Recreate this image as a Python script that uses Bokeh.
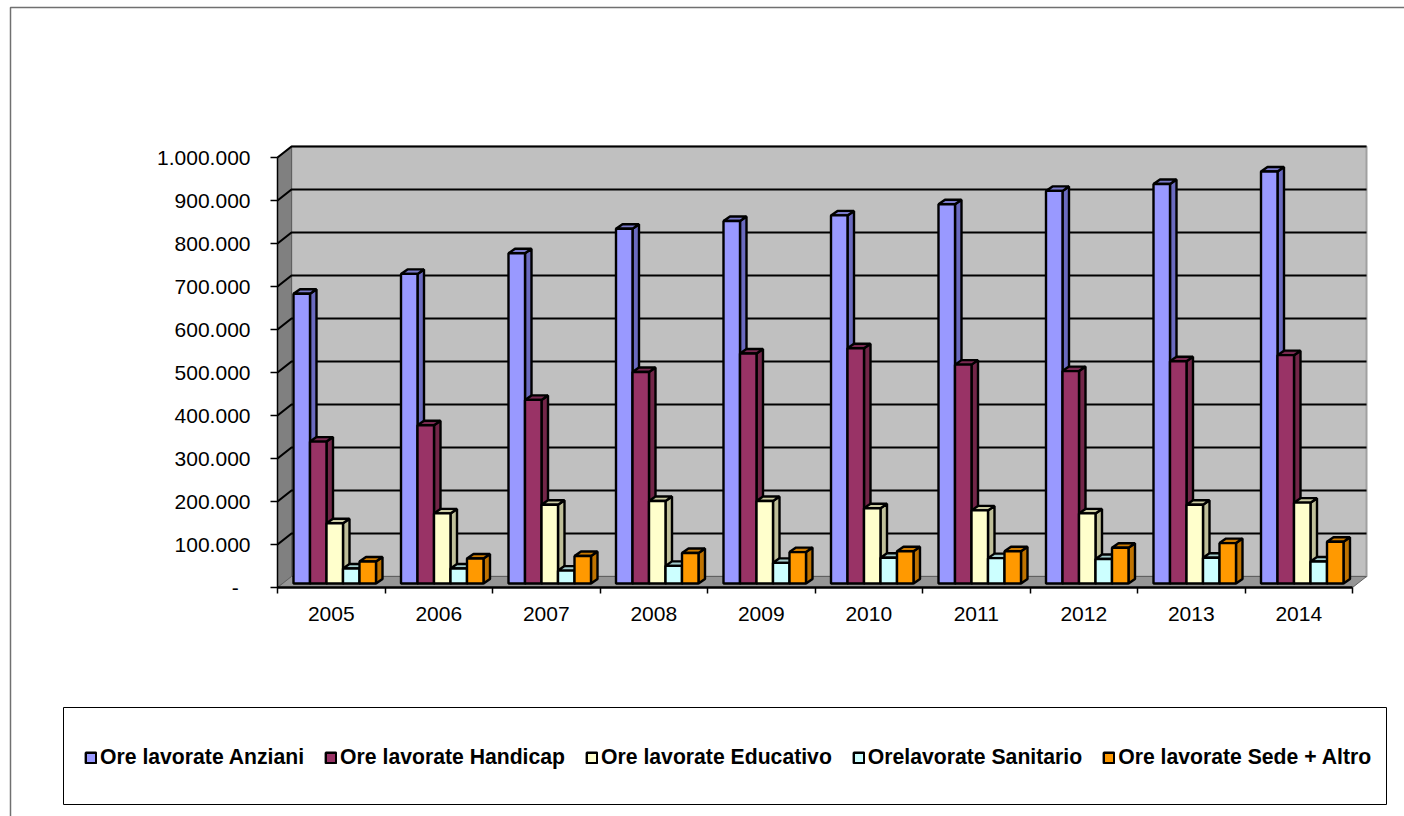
from bokeh.plotting import figure
from bokeh.embed import file_html
from bokeh.resources import INLINE
from bokeh.models import (Range1d, LinearAxis, FixedTicker, BoxAnnotation, Legend, LegendItem)

years = ["2005", "2006", "2007", "2008", "2009", "2010", "2011", "2012", "2013", "2014"]
anziani = [674000, 720000, 768000, 825000, 843000, 856000, 882000, 913000, 929000, 958000]
handicap = [330000, 368000, 427000, 492000, 535000, 547000, 509000, 494000, 517000, 531000]
educativo = [140000, 163000, 183000, 192000, 192000, 175000, 170000, 163000, 183000, 188000]
sanitario = [35000, 35000, 30000, 41000, 48000, 60000, 59000, 57000, 60000, 51000]
sede = [51000, 58000, 64000, 71000, 73000, 75000, 75000, 83000, 94000, 97000]
series_names = ["Ore lavorate Anziani", "Ore lavorate Handicap", "Ore lavorate Educativo",
                "Orelavorate Sanitario", "Ore lavorate Sede + Altro"]
series_values = [anziani, handicap, educativo, sanitario, sede]
front_colors = ["#9999FF", "#993366", "#FFFFCC", "#CCFFFF", "#FF9900"]
side_colors = ["#6A6ABF", "#722648", "#BFBF99", "#99BFBF", "#BF7300"]
top_colors = ["#7A7ACC", "#7A2951", "#CCCCA3", "#A3CCCC", "#CC7A00"]
y_ticks = [0, 100000, 200000, 300000, 400000, 500000, 600000, 700000, 800000, 900000, 1000000]
y_labels = ["-\u00a0\u00a0", "100.000", "200.000", "300.000", "400.000", "500.000",
            "600.000", "700.000", "800.000", "900.000", "1.000.000"]

FONT = "Liberation Sans"
W, H = 1404, 816
X0, Y0 = 277, 587      # where the axes cross, in pixels from top-left
PX_X = 107.5           # pixels per category
PX_Y = 430 / 1_000_000 # pixels per unit
n = len(years)

p = figure(width=W, height=H, output_backend="svg", toolbar_location=None,
           x_range=Range1d(-X0 / PX_X, (W - X0) / PX_X),
           y_range=Range1d(-(H - Y0) / PX_Y, Y0 / PX_Y),
           x_axis_type=None, y_axis_type=None,
           min_border_left=0, min_border_bottom=0, min_border_top=0, min_border_right=0)
p.outline_line_alpha = 0
p.grid.visible = False
p.background_fill_color = "white"

dx = 14 / PX_X
dy = 11 / PX_Y
top = y_ticks[-1]

# walls and floor
p.patch([dx, n + dx, n + dx, dx], [dy, dy, top + dy, top + dy],
        fill_color="#C0C0C0", line_color="#A0A0A0", line_width=2)
p.patch([0, dx, dx, 0], [0, dy, top + dy, top], fill_color="#808080", line_color="#606060", line_width=1)
p.patch([0, n, n + dx, dx], [0, 0, dy, dy], fill_color="#969696", line_color="#606060", line_width=1)
# grid lines
p.multi_line([[0, dx, n + dx] for t in y_ticks[1:]],
             [[t, t + dy, t + dy] for t in y_ticks[1:]], line_color="#000000", line_width=2.2)

# bars
bar_w = 16.5 / PX_X
start = 16 / PX_X
bx = 6.5 / PX_X
by = 4.5 / PX_Y
base = 4 / PX_Y
renderers = []
for s, vals in enumerate(series_values):
    l = [i + start + s * bar_w for i in range(n)]
    r = [a + bar_w for a in l]
    t = [base + v for v in vals]
    p.patches([[b, b + bx, b + bx, b] for b in r],
              [[base, base + by, h + by, h] for h in t],
              fill_color=side_colors[s], line_color="#000000", line_width=2.4)
    p.patches([[a, b, b + bx, a + bx] for a, b in zip(l, r)],
              [[h, h, h + by, h + by] for h in t],
              fill_color=top_colors[s], line_color="#000000", line_width=2.4)
    renderers.append(p.quad(left=l, right=r, bottom=base, top=t,
                            fill_color=front_colors[s], line_color="#000000", line_width=2.4))

# axes
ya = LinearAxis(ticker=FixedTicker(ticks=y_ticks), bounds=(0, top), fixed_location=0,
                major_label_overrides=dict(zip(y_ticks, y_labels)))
ya.major_label_text_font = FONT
ya.major_label_text_font_size = "21px"
ya.major_label_text_color = "#000000"
ya.major_tick_out = 7
ya.major_tick_in = 0
ya.major_tick_line_color = "#000000"
ya.major_tick_line_width = 1.5
ya.minor_tick_line_color = None
ya.axis_line_color = "#000000"
ya.axis_line_width = 1.5
ya.major_label_standoff = 20
p.add_layout(ya, "left")

centres = [i + 0.5 for i in range(n)]
xa = LinearAxis(ticker=FixedTicker(ticks=centres, minor_ticks=list(range(n + 1))), bounds=(0, n),
                fixed_location=0,
                major_label_overrides=dict(zip(centres, years)))
xa.major_label_text_font = FONT
xa.major_label_text_font_size = "21px"
xa.major_label_text_color = "#000000"
xa.major_tick_line_color = None
xa.major_tick_out = 0
xa.major_tick_in = 0
xa.minor_tick_out = 6
xa.minor_tick_in = 0
xa.minor_tick_line_color = "#000000"
xa.minor_tick_line_width = 1.5
xa.axis_line_color = "#000000"
xa.axis_line_width = 2.5
xa.major_label_standoff = 13
p.add_layout(xa, "below")

# outer chart border and legend box
p.add_layout(BoxAnnotation(left=10, right=W + 50, top=7, bottom=H + 50,
                           left_units="canvas", right_units="canvas", top_units="canvas", bottom_units="canvas",
                           fill_alpha=0, line_color="#707070", line_alpha=1, line_width=1.5, level="annotation"))
p.add_layout(BoxAnnotation(left=63, right=1386, top=707, bottom=804,
                           left_units="canvas", right_units="canvas", top_units="canvas", bottom_units="canvas",
                           fill_alpha=0, line_color="#000000", line_alpha=1, line_width=1, level="annotation"))

legend = Legend(items=[LegendItem(label=nm, renderers=[rr]) for nm, rr in zip(series_names, renderers)],
                orientation="horizontal", location=(84, 47), spacing=20, glyph_width=13, glyph_height=13,
                label_standoff=3, padding=0, margin=0, border_line_alpha=0, background_fill_alpha=0,
                label_text_font=FONT, label_text_font_size="21.2px", label_text_font_style="bold",
                label_text_color="#000000")
p.add_layout(legend, "center")

open("out.html", "w").write(file_html(p, INLINE))
